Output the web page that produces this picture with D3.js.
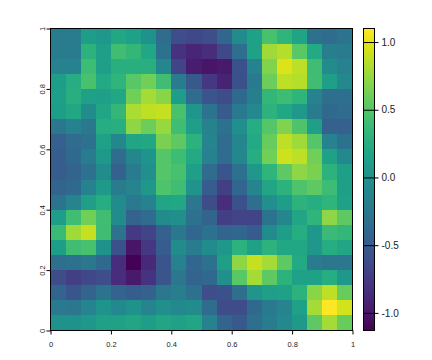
<!DOCTYPE html>
<html>
<head>
<meta charset="utf-8">
<script src="https://cdn.jsdelivr.net/npm/d3@7"></script>
<style>
  html, body { margin: 0; padding: 0; background: #fff; }
  svg { display: block; }
  text { font-family: "Liberation Sans", Arial, sans-serif; fill: #222; }
</style>
</head>
<body>
<div id="chart"></div>
<script>
// cell values, top row first, 20 x 20
const row00 = [-.2,-.2,.1,.05,.2,.15,0,-.35,-.6,-.65,-.6,-.4,-.05,.15,.45,.32,.17,-.3,-.35,-.28];
const row01 = [-.2,-.2,.3,.12,.42,.35,.2,-.3,-.8,-.9,-.85,-.65,-.33,.15,.78,.85,.52,.22,-.18,-.2];
const row02 = [-.15,-.15,.4,.12,.28,.28,.28,-.1,-.68,-.95,-1,-.98,-.58,-.15,.68,.98,.88,.42,-.05,-.15];
const row03 = [.1,.25,.45,.22,.32,.52,.62,.42,-.2,-.52,-.78,-.92,-.58,-.22,.6,.88,.85,.42,.12,-.08];
const row04 = [.12,.28,.15,.12,.2,.62,.8,.7,.1,-.35,-.55,-.62,-.38,-.18,.35,.4,.32,-.15,-.32,-.32];
const row05 = [.1,.2,-.05,.18,.35,.82,.88,.9,.45,.03,-.28,-.5,-.22,-.08,.3,.2,.08,-.2,-.38,-.35];
const row06 = [-.25,-.15,-.25,.25,.28,.72,.6,.75,.42,.12,-.15,-.3,-.02,.25,.5,.68,.48,.12,-.45,-.45];
const row07 = [-.45,-.35,-.3,.15,-.1,.18,.2,.65,.55,.3,-.12,-.35,-.1,.22,.58,.88,.78,.5,-.15,-.3];
const row08 = [-.48,-.38,-.2,.08,-.35,-.1,.02,.5,.4,.22,-.15,-.35,-.1,.25,.62,.93,.88,.62,.15,-.08];
const row09 = [-.48,-.42,-.3,-.05,-.45,-.2,-.03,.5,.45,.12,-.35,-.55,-.3,.05,.32,.55,.72,.65,.3,.12];
const row10 = [-.42,-.38,-.15,.08,-.2,-.12,.05,.48,.42,.02,-.48,-.72,-.4,-.12,.18,.3,.48,.55,.4,.12];
const row11 = [-.28,-.12,.12,.25,-.05,-.22,-.15,.18,.2,-.25,-.62,-.85,-.58,-.33,-.02,.1,.3,.25,.32,.15];
const row12 = [.1,.42,.62,.42,-.05,-.42,-.35,-.05,-.02,-.3,-.42,-.72,-.68,-.68,-.28,-.1,.18,.32,.72,.55];
const row13 = [.38,.78,.9,.42,-.28,-.75,-.68,-.45,-.25,-.4,-.3,-.42,-.4,-.5,-.05,.1,.25,.05,.38,.35];
const row14 = [.1,.42,.45,0,-.58,-1,-.78,-.48,-.05,-.2,-.05,.05,.3,.15,.3,.2,.2,.05,.25,.18];
const row15 = [-.32,-.3,-.25,-.38,-.85,-1.12,-.88,-.55,-.15,-.4,-.3,.12,.72,.9,.8,.55,.22,-.2,-.25,-.25];
const row16 = [-.62,-.72,-.65,-.6,-.85,-.98,-.8,-.55,-.25,-.42,-.38,-.02,.52,.8,.55,.3,.15,.15,.25,.05];
const row17 = [-.42,-.55,-.42,-.28,-.42,-.48,-.45,-.25,-.18,-.3,-.6,-.58,-.32,.03,.12,.15,.3,.7,.88,.58];
const row18 = [-.22,-.25,-.12,.02,-.08,0,-.12,-.02,-.08,-.05,-.35,-.62,-.62,-.38,-.22,-.12,.15,.8,1.1,.95];
const row19 = [0,0,.05,.15,.15,.18,.1,.18,.15,.18,-.15,-.42,-.52,-.32,-.2,-.08,.08,.55,.8,.58];
const rows = [row00,row01,row02,row03,row04,row05,row06,row07,row08,row09,
              row10,row11,row12,row13,row14,row15,row16,row17,row18,row19];

const axisTicks = [0, 0.2, 0.4, 0.6, 0.8, 1];
const barTicks = [-1, -0.5, 0, 0.5, 1];
const zMin = -1.13, zMax = 1.10;

const plotLeft = 50.5, plotRight = 352.5, plotTop = 28.5, plotBottom = 330.5;
const barLeft = 363.5, barRight = 374.5;

const svg = d3.select('#chart').append('svg').attr('width', 432).attr('height', 360);

const x = d3.scaleLinear().domain([0, 1]).range([plotLeft, plotRight]);
const y = d3.scaleLinear().domain([0, 1]).range([plotBottom, plotTop]);
const z = d3.scaleLinear().domain([zMin, zMax]).range([plotBottom, plotTop]);
const color = d3.scaleSequential(d3.interpolateViridis).domain([zMin, zMax]);

const n = rows.length;
const cells = rows.flatMap((r, i) => r.map((v, j) => ({ i, j, v })));

svg.append('g').selectAll('rect')
    .data(cells)
    .enter()
    .append('rect')
    .attr('x', d => x(d.j / n))
    .attr('y', d => y(1 - d.i / n))
    .attr('width', d => x((d.j + 1) / n) - x(d.j / n))
    .attr('height', d => y(1 - (d.i + 1) / n) - y(1 - d.i / n))
    .attr('fill', d => color(d.v))
    .attr('shape-rendering', 'crispEdges');

// colour bar, one rect per pixel row
const steps = d3.range(0, 302);
const stepH = (zMax - zMin) / steps.length;
svg.append('g').selectAll('rect')
    .data(steps)
    .enter()
    .append('rect')
    .attr('x', barLeft)
    .attr('y', d => z(zMin + (d + 1) * stepH))
    .attr('width', barRight - barLeft)
    .attr('height', d => z(zMin + d * stepH) - z(zMin + (d + 1) * stepH))
    .attr('fill', d => color(zMin + (d + 0.5) * stepH))
    .attr('shape-rendering', 'crispEdges');

function styleAxis(g, size) {
    g.select('.domain').remove();
    g.selectAll('line').attr('stroke', '#000');
    g.selectAll('text').style('font-size', size + 'px');
}

svg.append('g')
    .attr('transform', `translate(0,${plotBottom})`)
    .call(d3.axisBottom(x).tickValues(axisTicks).tickSize(4).tickPadding(7).tickFormat(d3.format('~g')))
    .call(styleAxis, 7.5);

const yAxis = svg.append('g')
    .attr('transform', `translate(${plotLeft},0)`)
    .call(d3.axisLeft(y).tickValues(axisTicks).tickSize(4).tickPadding(6).tickFormat(d3.format('~g')))
    .call(styleAxis, 7.5);
yAxis.selectAll('.tick text')
    .attr('text-anchor', 'middle')
    .attr('dy', 0)
    .attr('x', 0)
    .attr('y', 0)
    .attr('transform', 'translate(-5.5,0) rotate(-90)');

svg.append('g')
    .attr('transform', `translate(${barRight},0)`)
    .call(d3.axisRight(z).tickValues(barTicks).tickSize(4).tickPadding(3).tickFormat(d => d.toFixed(1)))
    .call(g => g.selectAll('line').attr('x1', -11))
    .call(styleAxis, 10);

// plot box and bar box
svg.append('rect').attr('x', plotLeft).attr('y', plotTop).attr('width', plotRight - plotLeft).attr('height', plotBottom - plotTop)
    .attr('fill', 'none').attr('stroke', '#000').attr('stroke-width', 1);
svg.append('rect').attr('x', barLeft).attr('y', plotTop).attr('width', barRight - barLeft).attr('height', plotBottom - plotTop)
    .attr('fill', 'none').attr('stroke', '#000').attr('stroke-width', 1);
</script>
</body>
</html>
